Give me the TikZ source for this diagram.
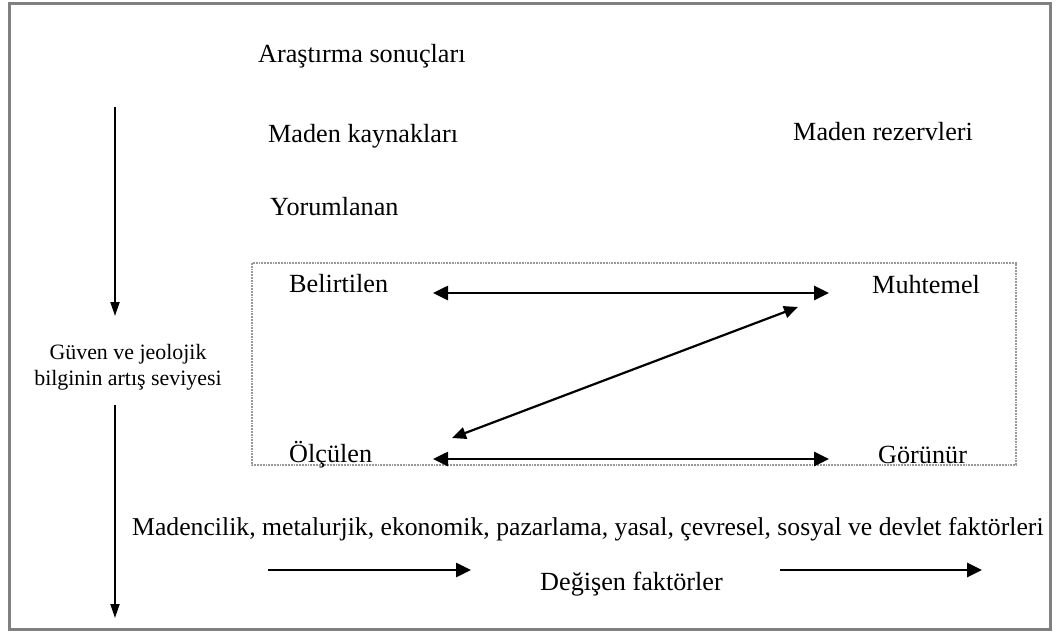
\documentclass[tikz,border=0pt]{standalone}
\usepackage{fontspec}
\setmainfont{Liberation Serif}
\usetikzlibrary{arrows.meta}
\begin{document}
\begin{tikzpicture}[x=1pt,y=-1pt,
  lbl/.style={font=\fontsize{26.2}{30}\selectfont, inner sep=0pt, anchor=base west},
  widelbl/.style={font=\fontsize{25.7}{30}\selectfont, inner sep=0pt, anchor=base west},
  sidelbl/.style={font=\fontsize{21.9}{26}\selectfont, inner sep=0pt, anchor=base},
  link/.style={line width=2.6pt, {Triangle[length=15pt,width=14pt]}-{Triangle[length=15pt,width=14pt]}},
  flow/.style={line width=2.6pt, -{Triangle[length=15pt,width=14pt]}},
  down/.style={line width=2pt, -{Triangle[length=14pt,width=9pt]}}]
  \useasboundingbox (0,0) rectangle (1056,634);
  % outer frame and the dotted category box
  \draw[gray, line width=3pt] (9,4) rectangle (1050,629);
  \draw[gray!80, line width=1.8pt, densely dotted] (252,263) rectangle (1016,465);

  % headings
  \node[lbl] (res) at (258,63) {Araştırma sonuçları};
  \node[lbl] (kay) at (268,142) {Maden kaynakları};
  \node[lbl] (rez) at (793,140) {Maden rezervleri};
  \node[lbl] (yor) at (270,215) {Yorumlanan};

  % categories
  \node[lbl] (bel) at (289,292) {Belirtilen};
  \node[lbl] (muh) at (872,293) {Muhtemel};
  \node[lbl] (olc) at (289,462) {Ölçülen};
  \node[lbl] (gor) at (878,463) {Görünür};

  % arrow ends between the categories
  \coordinate (belR) at (433,293);
  \coordinate (muhL) at (829,293);
  \coordinate (olcR) at (433,459);
  \coordinate (gorL) at (829,459);
  \coordinate (olcD) at (452,438);
  \coordinate (muhD) at (798,307);
  \draw[link] (belR) -- (muhL);
  \draw[link] (olcR) -- (gorL);
  \draw[line width=2.2pt, {Triangle[length=14pt,width=12pt]}-{Triangle[length=14pt,width=12pt]}] (olcD) -- (muhD);

  % confidence axis on the left
  \node[sidelbl] (guv1) at (128,359) {Güven ve jeolojik};
  \node[sidelbl] (guv2) at (128,385) {bilginin artış seviyesi};
  \coordinate (axTop) at (115,107);
  \coordinate (axMid) at (115,316);
  \coordinate (axLow) at (115,405);
  \coordinate (axEnd) at (115,618);
  \draw[down] (axTop) -- (axMid);
  \draw[down] (axLow) -- (axEnd);

  % modifying factors
  \node[widelbl] (fak) at (132,535) {Madencilik, metalurjik, ekonomik, pazarlama, yasal, çevresel, sosyal ve devlet faktörleri};
  \node[lbl] (deg) at (540,590) {Değişen faktörler};
  \coordinate (f1a) at (268,570);
  \coordinate (f1b) at (471,570);
  \coordinate (f2a) at (780,570);
  \coordinate (f2b) at (982,570);
  \draw[flow] (f1a) -- (f1b);
  \draw[flow] (f2a) -- (f2b);
\end{tikzpicture}
\end{document}
